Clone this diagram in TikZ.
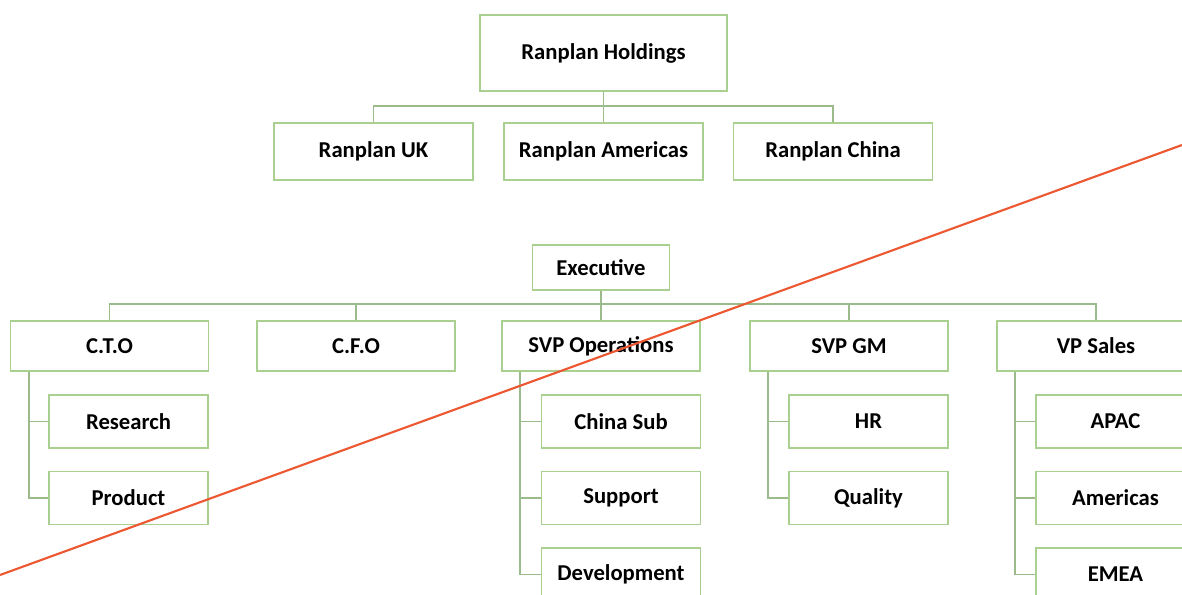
\documentclass[tikz,border=0pt]{standalone}
\usepackage{fontspec}
\setmainfont{Carlito}
\usepackage{tikz}

\definecolor{boxgreen}{RGB}{169,208,142}
\definecolor{linkgreen}{RGB}{156,187,138}
\definecolor{cutred}{RGB}{236,88,50}

\begin{document}
\begin{tikzpicture}[x=0.75pt,y=0.75pt,yscale=-1,xscale=1,
    orgbox/.style={draw=boxgreen,line width=1.2pt,fill=white,inner sep=0pt,
        font=\fontsize{17}{20}\selectfont\bfseries},
    topbox/.style={orgbox,minimum width=185.25pt,minimum height=57pt},
    firmbox/.style={orgbox,minimum width=149.25pt,minimum height=42.75pt},
    headbox/.style={orgbox,minimum width=102.75pt,minimum height=33.75pt},
    deptbox/.style={orgbox,minimum width=148.5pt,minimum height=37.5pt},
    subbox/.style={orgbox,minimum width=119.25pt,minimum height=39.75pt},
    link/.style={draw=linkgreen,line width=1.2pt}]

        \path[use as bounding box,clip] (0,0) rectangle (1182,595);

        % Holdings tree
        \node[topbox] (hold) at (603.5,53) {Ranplan Holdings};
        \node[firmbox] (uk) at (373.5,151.5) {Ranplan UK};
        \node[firmbox] (amer) at (603.5,151.5) {Ranplan Americas};
        \node[firmbox] (china) at (833,151.5) {Ranplan China};

        \draw[link] (hold.south) -- (amer.north);
        \draw[link] (uk.north) -- ++(0,-16) -| (china.north);

        % Executive tree
        \node[headbox] (exec) at (601,267.5) {Executive};
        \node[deptbox] (cto) at (109.5,346) {C.T.O};
        \node[deptbox] (cfo) at (356,346) {C.F.O};
        \node[deptbox] (ops) at (601,346) {SVP Operations};
        \node[deptbox] (gm) at (849,346) {SVP GM};
        \node[deptbox] (sales) at (1096,346) {VP Sales};

        \draw[link] (exec.south) -- (ops.north);
        \draw[link] (cto.north) -- ++(0,-16) -| (sales.north);
        \draw[link] (cfo.north) -- ++(0,-16);
        \draw[link] (gm.north) -- ++(0,-16);

        % C.T.O
        \node[subbox] (research) at (128.5,421.5) {Research};
        \node[subbox] (product) at (128.5,498) {Product};
        \draw[link] ([xshift=14.25pt]cto.south west) |- (research.west);
        \draw[link] ([xshift=14.25pt]cto.south west) |- (product.west);

        % SVP Operations
        \node[subbox] (chinasub) at (621,421.5) {China Sub};
        \node[subbox] (support) at (621,498) {Support};
        \node[subbox] (devel) at (621,574.5) {Development};
        \draw[link] ([xshift=14.25pt]ops.south west) |- (chinasub.west);
        \draw[link] ([xshift=14.25pt]ops.south west) |- (support.west);
        \draw[link] ([xshift=14.25pt]ops.south west) |- (devel.west);

        % SVP GM
        \node[subbox] (hr) at (868.5,421.5) {HR};
        \node[subbox] (quality) at (868.5,498) {Quality};
        \draw[link] ([xshift=14.25pt]gm.south west) |- (hr.west);
        \draw[link] ([xshift=14.25pt]gm.south west) |- (quality.west);

        % VP Sales
        \node[subbox] (apac) at (1115.5,421.5) {APAC};
        \node[subbox] (americas) at (1115.5,498) {Americas};
        \node[subbox] (emea) at (1115.5,574.5) {EMEA};
        \draw[link] ([xshift=14.25pt]sales.south west) |- (apac.west);
        \draw[link] ([xshift=14.25pt]sales.south west) |- (americas.west);
        \draw[link] ([xshift=14.25pt]sales.south west) |- (emea.west);

        % Cut line
        \coordinate (cutstart) at (0,575);
        \coordinate (cutend) at (1182,145);
        \draw[cutred,line width=1.6pt] (cutstart) -- (cutend);

\end{tikzpicture}
\end{document}
